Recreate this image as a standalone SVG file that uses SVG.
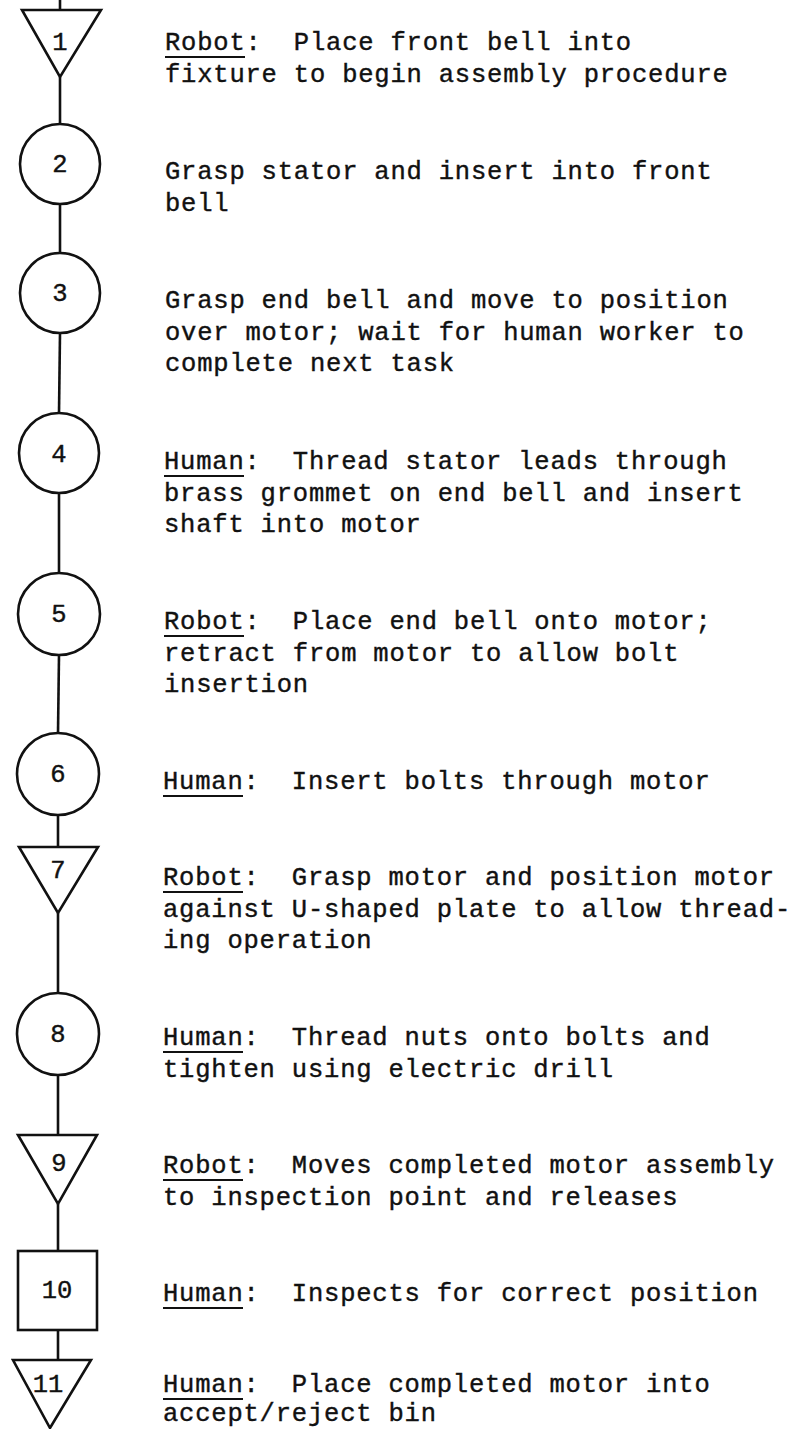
<svg xmlns="http://www.w3.org/2000/svg" width="797" height="1429" viewBox="0 0 797 1429">
  <style>
    .shape { fill: none; stroke: #111; stroke-width: 2.6; stroke-linejoin: miter; }
    .conn { stroke: #111; stroke-width: 2.6; fill: none; }
    .num { font-family: "Liberation Mono", "DejaVu Sans Mono", monospace; font-size: 25.5px; fill: #111; stroke: #111; stroke-width: 0.4; text-anchor: middle; }
    .txt { font-family: "Liberation Mono", "DejaVu Sans Mono", monospace; font-size: 25.5px; letter-spacing: 0.8px; fill: #111; stroke: #111; stroke-width: 0.4; white-space: pre; }
    .ul { stroke: #111; stroke-width: 2; }
  </style>
  <rect width="797" height="1429" fill="#fff"/>

  <!-- vertical flow line between steps -->
  <g id="connectors">
    <line class="conn" x1="60" y1="0" x2="60" y2="10"/>
    <line class="conn" x1="60" y1="77" x2="60" y2="124"/>
    <line class="conn" x1="60" y1="204" x2="60" y2="253"/>
    <line class="conn" x1="60" y1="333" x2="59" y2="413"/>
    <line class="conn" x1="59" y1="493" x2="59" y2="573"/>
    <line class="conn" x1="59" y1="655" x2="58" y2="733"/>
    <line class="conn" x1="58" y1="815" x2="58" y2="847"/>
    <line class="conn" x1="58" y1="913" x2="58" y2="993"/>
    <line class="conn" x1="58" y1="1075" x2="58" y2="1135"/>
    <line class="conn" x1="58" y1="1204" x2="58" y2="1251"/>
    <line class="conn" x1="58" y1="1330" x2="58" y2="1360"/>
  </g>

  <g id="step1">
    <polygon class="shape" points="22,10 101,10 60,77"/>
    <text class="num" x="60" y="50">1</text>
    <text class="txt" x="165" y="50">Robot:  Place front bell into</text>
    <line class="ul" x1="165" y1="57" x2="245" y2="57"/>
    <text class="txt" x="165" y="82">fixture to begin assembly procedure</text>
  </g>

  <g id="step2">
    <circle class="shape" cx="60" cy="164" r="40"/>
    <text class="num" x="60" y="172">2</text>
    <text class="txt" x="165" y="179">Grasp stator and insert into front</text>
    <text class="txt" x="165" y="211">bell</text>
  </g>

  <g id="step3">
    <circle class="shape" cx="60" cy="293" r="40"/>
    <text class="num" x="60" y="301">3</text>
    <text class="txt" x="165" y="308">Grasp end bell and move to position</text>
    <text class="txt" x="165" y="340">over motor; wait for human worker to</text>
    <text class="txt" x="165" y="371">complete next task</text>
  </g>

  <g id="step4">
    <circle class="shape" cx="59" cy="453" r="40"/>
    <text class="num" x="59" y="462">4</text>
    <text class="txt" x="164" y="469">Human:  Thread stator leads through</text>
    <line class="ul" x1="164" y1="476" x2="244" y2="476"/>
    <text class="txt" x="164" y="501">brass grommet on end bell and insert</text>
    <text class="txt" x="164" y="532">shaft into motor</text>
  </g>

  <g id="step5">
    <circle class="shape" cx="59" cy="614" r="41"/>
    <text class="num" x="59" y="622">5</text>
    <text class="txt" x="164" y="629">Robot:  Place end bell onto motor;</text>
    <line class="ul" x1="164" y1="636" x2="244" y2="636"/>
    <text class="txt" x="164" y="661">retract from motor to allow bolt</text>
    <text class="txt" x="164" y="692">insertion</text>
  </g>

  <g id="step6">
    <circle class="shape" cx="58" cy="774" r="41"/>
    <text class="num" x="58" y="782">6</text>
    <text class="txt" x="163" y="789">Human:  Insert bolts through motor</text>
    <line class="ul" x1="163" y1="796" x2="243" y2="796"/>
  </g>

  <g id="step7">
    <polygon class="shape" points="19,847 98,847 58,913"/>
    <text class="num" x="58" y="878">7</text>
    <text class="txt" x="163" y="885">Robot:  Grasp motor and position motor</text>
    <line class="ul" x1="163" y1="892" x2="243" y2="892"/>
    <text class="txt" x="163" y="917">against U-shaped plate to allow thread-</text>
    <text class="txt" x="163" y="948">ing operation</text>
  </g>

  <g id="step8">
    <circle class="shape" cx="58" cy="1034" r="41"/>
    <text class="num" x="58" y="1042">8</text>
    <text class="txt" x="163" y="1045">Human:  Thread nuts onto bolts and</text>
    <line class="ul" x1="163" y1="1052" x2="243" y2="1052"/>
    <text class="txt" x="163" y="1077">tighten using electric drill</text>
  </g>

  <g id="step9">
    <polygon class="shape" points="18,1135 97,1135 58,1204"/>
    <text class="num" x="59" y="1171">9</text>
    <text class="txt" x="163" y="1173">Robot:  Moves completed motor assembly</text>
    <line class="ul" x1="163" y1="1180" x2="243" y2="1180"/>
    <text class="txt" x="163" y="1205">to inspection point and releases</text>
  </g>

  <g id="step10">
    <rect class="shape" x="18" y="1251" width="79" height="79"/>
    <text class="num" x="57" y="1298">10</text>
    <text class="txt" x="163" y="1301">Human:  Inspects for correct position</text>
    <line class="ul" x1="163" y1="1308" x2="243" y2="1308"/>
  </g>

  <g id="step11">
    <polygon class="shape" points="13,1360 91,1360 50,1428"/>
    <text class="num" x="48" y="1392">11</text>
    <text class="txt" x="163" y="1392">Human:  Place completed motor into</text>
    <line class="ul" x1="163" y1="1399" x2="243" y2="1399"/>
    <text class="txt" x="163" y="1421">accept/reject bin</text>
  </g>
</svg>
